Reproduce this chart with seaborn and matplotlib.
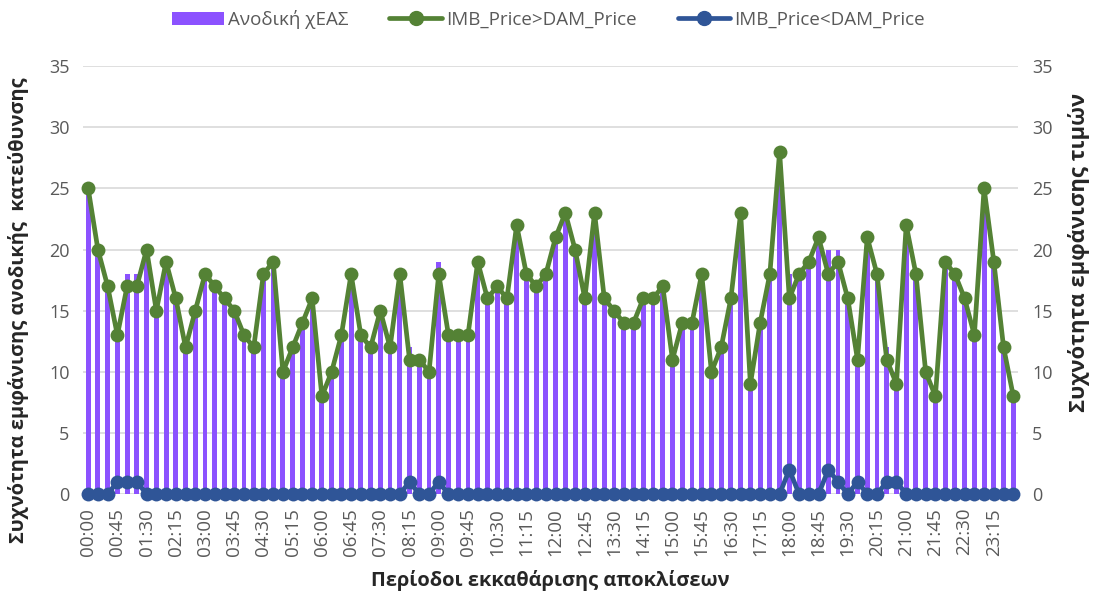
import numpy as np
import pandas as pd
import seaborn as sns
import matplotlib.pyplot as plt
from matplotlib.patches import Patch
from matplotlib.lines import Line2D

# 15-minute settlement periods
periods = [f"{h:02d}:{m:02d}" for h in range(24) for m in (0, 15, 30, 45)]

imb_above = [25, 20, 17, 13, 17, 17, 20, 15, 19, 16,
             12, 15, 18, 17, 16, 15, 13, 12, 18, 19,
             10, 12, 14, 16, 8, 10, 13, 18, 13, 12,
             15, 12, 18, 11, 11, 10, 18, 13, 13, 13,
             19, 16, 17, 16, 22, 18, 17, 18, 21, 23,
             20, 16, 23, 16, 15, 14, 14, 16, 16, 17,
             11, 14, 14, 18, 10, 12, 16, 23, 9, 14,
             18, 28, 16, 18, 19, 21, 18, 19, 16, 11,
             21, 18, 11, 9, 22, 18, 10, 8, 19, 18,
             16, 13, 25, 19, 12, 8]

imb_below = [0, 0, 0, 1, 1, 1, 0, 0, 0, 0,
             0, 0, 0, 0, 0, 0, 0, 0, 0, 0,
             0, 0, 0, 0, 0, 0, 0, 0, 0, 0,
             0, 0, 0, 1, 0, 0, 1, 0, 0, 0,
             0, 0, 0, 0, 0, 0, 0, 0, 0, 0,
             0, 0, 0, 0, 0, 0, 0, 0, 0, 0,
             0, 0, 0, 0, 0, 0, 0, 0, 0, 0,
             0, 0, 2, 0, 0, 0, 2, 1, 0, 1,
             0, 0, 1, 1, 0, 0, 0, 0, 0, 0,
             0, 0, 0, 0, 0, 0]

upward = [25, 20, 17, 14, 18, 18, 20, 15, 19, 16,
          12, 15, 18, 17, 16, 15, 13, 12, 18, 19,
          10, 12, 14, 16, 8, 10, 13, 18, 13, 12,
          15, 12, 18, 12, 11, 10, 19, 13, 13, 13,
          19, 16, 17, 16, 22, 18, 17, 18, 21, 23,
          20, 16, 23, 16, 15, 14, 14, 16, 16, 17,
          11, 14, 14, 18, 10, 12, 16, 23, 9, 14,
          18, 28, 18, 18, 19, 21, 20, 20, 16, 12,
          21, 18, 12, 10, 22, 18, 10, 8, 19, 18,
          16, 13, 25, 19, 12, 8]

df = pd.DataFrame({"period": periods, "idx": np.arange(len(periods)),
                   "upward": upward, "above": imb_above, "below": imb_below})

purple = "#8c52ff"
green = "#548235"
blue = "#2f5597"
grey = "#595959"

sns.set_style("white")
plt.rcParams['font.family'] = ['Open Sans', 'DejaVu Sans']

fig = plt.figure(figsize=(10.96, 5.96), dpi=100)
ax = fig.add_axes([0.076, 0.171, 0.853, 0.718])

sns.barplot(data=df, x="period", y="upward", color=purple, width=0.5,
            saturation=1, linewidth=0, ax=ax, zorder=2)
ax.set_xlim(-0.5, 95.5)
ax.set_ylim(0, 35)
ax.set_yticks(range(0, 36, 5))
ax.yaxis.grid(True, color="#d9d9d9", linewidth=1.2, zorder=0)
ax.set_axisbelow(True)
ax.set_xticks(range(0, 96, 3))
ax.set_xticklabels(periods[::3], rotation=90, fontsize=13.5, color=grey)
ax.tick_params(axis="y", labelsize=13, labelcolor=grey, length=0, pad=10)
ax.tick_params(axis="x", length=0, pad=10)
for s in ax.spines.values():
    s.set_visible(False)
ax.set_xlabel("Περίοδοι εκκαθάρισης αποκλίσεων", fontsize=14.4,
              fontweight="bold", labelpad=10)
ax.set_ylabel("Συχνότητα εμφάνισης ανοδικής  κατεύθυνσης", fontsize=14.4,
              fontweight="bold")
ax.yaxis.set_label_coords(-0.058, 0.43)

ax2 = ax.twinx()
sns.lineplot(data=df, x="idx", y="above", color=green, linewidth=3.4,
             marker="o", markersize=10, markeredgewidth=0, ax=ax2,
             clip_on=False)
sns.lineplot(data=df, x="idx", y="below", color=blue, linewidth=3.4,
             marker="o", markersize=10, markeredgewidth=0, ax=ax2,
             clip_on=False)
ax2.set_xlim(-0.5, 95.5)
ax2.set_ylim(0, 35)
ax2.set_yticks(range(0, 36, 5))
ax2.tick_params(axis="y", labelsize=13, labelcolor=grey, length=0, pad=10)
for s in ax2.spines.values():
    s.set_visible(False)
ax2.set_xlabel("")
ax2.set_ylabel("Συχνότητα εμφάνισης τιμών", fontsize=15.8,
               fontweight="bold", rotation=90)
ax2.yaxis.set_label_coords(1.053, 0.565)

handles = [Patch(facecolor=purple, edgecolor="none"),
           Line2D([], [], color=green, linewidth=3.4, marker="o", markersize=10),
           Line2D([], [], color=blue, linewidth=3.4, marker="o", markersize=10)]
labels = ["Ανοδική χΕΑΣ", "IMB_Price>DAM_Price", "IMB_Price<DAM_Price"]
fig.legend(handles, labels, loc="upper center", bbox_to_anchor=(0.5, 1.012),
           ncol=3, frameon=False, fontsize=13.5, labelcolor=grey,
           handlelength=2.8, handletextpad=0.2, columnspacing=2.2)

fig.savefig("out.png", dpi=100)
